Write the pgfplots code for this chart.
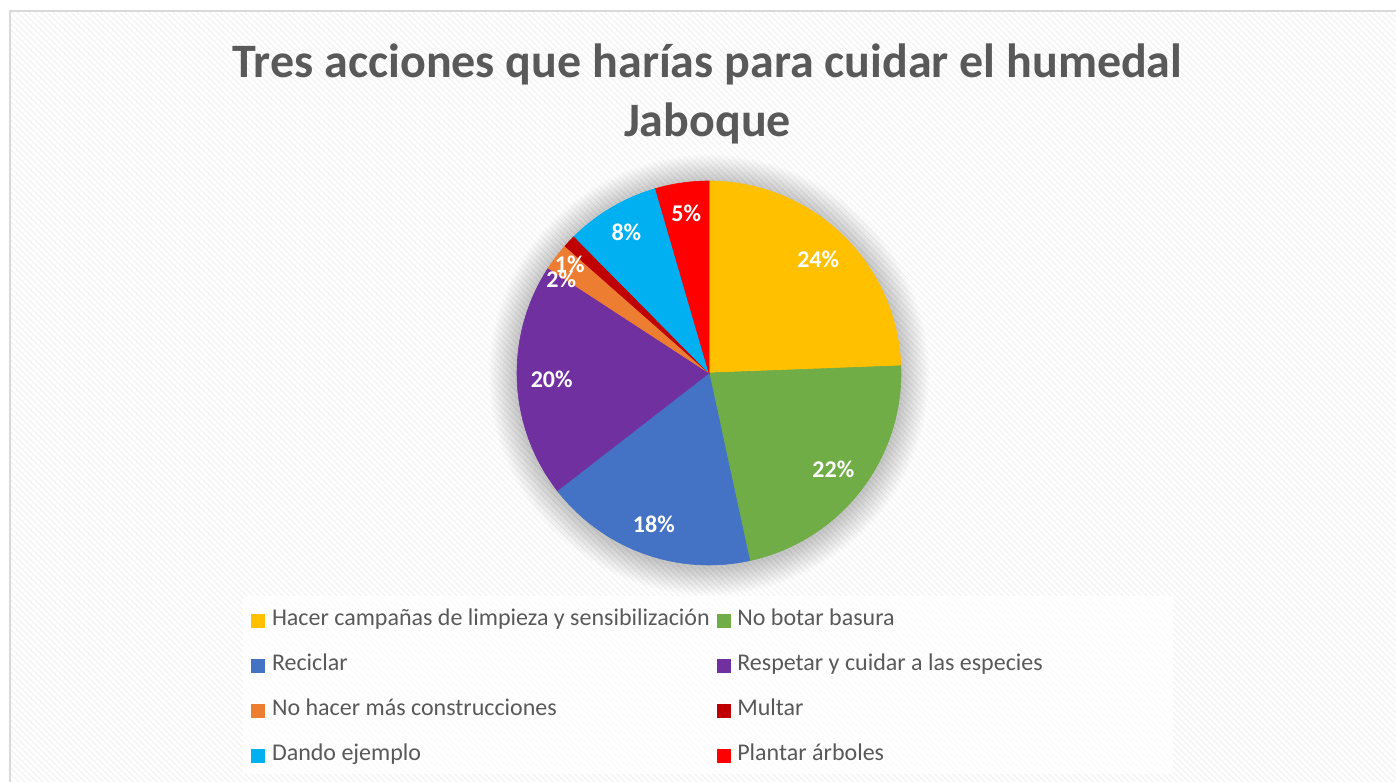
\documentclass[border=0pt]{standalone}
\usepackage{pgfplots}
\pgfplotsset{compat=1.18}
\usepackage{pgfplotstable}
\usetikzlibrary{patterns}
\usepackage{fontspec}
\setmainfont{Carlito}
\definecolor{txt}{HTML}{595959}
\definecolor{c0}{HTML}{FFC000}
\definecolor{c1}{HTML}{70AD47}
\definecolor{c2}{HTML}{4472C4}
\definecolor{c3}{HTML}{7030A0}
\definecolor{c4}{HTML}{ED7D31}
\definecolor{c5}{HTML}{C00000}
\definecolor{c6}{HTML}{00B0F0}
\definecolor{c7}{HTML}{FF0000}

\pgfplotstableread[col sep=comma]{
value,label,lr,da,name
24.4,24,0.82,0,Hacer campañas de limpieza y sensibilización
22.2,22,0.82,0,No botar basura
17.9,18,0.84,0,Reciclar
19.7,20,0.82,0,Respetar y cuidar a las especies
2.3,2,0.91,5,No hacer más construcciones
1.1,1,0.92,5.4,Multar
7.9,8,0.85,0,Dando ejemplo
4.5,5,0.84,0,Plantar árboles
}\piedata

\begin{document}
\begin{tikzpicture}[x=0.5pt,y=0.5pt]
\useasboundingbox (0,0) rectangle (1396,781);
\clip (0,0) rectangle (1396,781);
\fill[white] (0,0) rectangle (1396,781);
\fill[white] (10,770) rectangle (1420,-20);
\fill[pattern=north west lines, pattern color=black!6] (10,770) rectangle (1420,-20);
\draw[black!15, line width=1pt] (10,770) rectangle (1420,-20);
% title
\node[anchor=base, font=\fontsize{24}{30}\selectfont\bfseries, text=txt, inner sep=0pt] at (707.5,703) {Tres acciones que harías para cuidar el humedal};
\node[anchor=base, font=\fontsize{24}{30}\selectfont\bfseries, text=txt, inner sep=0pt] at (707.5,644) {Jaboque};
% soft shadow around pie
\foreach \k in {1,...,14} {\fill[black, opacity=0.014] (709,406) circle ({192+2*\k});}
% legend background
\fill[white, opacity=0.75] (243,185) rectangle (1173,7);
\begin{axis}[
  at={(354.5pt,204pt)}, anchor=center,
  width=192pt, height=192pt, scale only axis,
  xmin=-1, xmax=1, ymin=-1, ymax=1,
  hide axis, clip=false,
  legend columns=2,
  legend cell align=left,
  legend image code/.code={\fill[#1] (0pt,-3.25pt) rectangle (6.5pt,3.25pt);},
  legend style={
    at={(-0.6927,-0.1133)}, anchor=north west,
    draw=none, fill=none, inner sep=0pt,
    font=\fontsize{12}{14}\selectfont, text=txt,
    row sep=11pt,
    nodes={inner sep=0pt, text height=8.5pt, text depth=3pt},
    /tikz/every odd column/.append style={column sep=3.5pt},
    /tikz/every even column/.append style={column sep=3.5pt},
  },
]
\pgfplotstablegetrowsof{\piedata}
\pgfmathtruncatemacro\nrows{\pgfplotsretval-1}
\gdef\startang{90}
\pgfplotsforeachungrouped \i in {0,...,\nrows}{%
  \pgfplotstablegetelem{\i}{value}\of\piedata
  \let\val\pgfplotsretval
  \pgfmathsetmacro\endang{\startang-3.6*\val}
  \gdef\coords{(0,0)}
  \foreach \k in {0,...,48}{%
    \pgfmathsetmacro\a{\startang+(\endang-\startang)*\k/48}%
    \pgfmathsetmacro\cx{cos(\a)}%
    \pgfmathsetmacro\cy{sin(\a)}%
    \xdef\coords{\coords (\cx,\cy)}%
  }%
  \pgfplotstablegetelem{\i}{name}\of\piedata
  \let\nm\pgfplotsretval
  \edef\cmd{\noexpand\addplot[fill=c\i, draw=c\i, line width=0.3pt] coordinates {\coords} -- cycle;
    \noexpand\addlegendentry{\nm}}%
  \cmd
  \xdef\startang{\endang}%
}
% data labels
\gdef\startang{90}
\pgfplotsforeachungrouped \i in {0,...,\nrows}{%
  \pgfplotstablegetelem{\i}{value}\of\piedata
  \let\val\pgfplotsretval
  \pgfplotstablegetelem{\i}{lr}\of\piedata
  \let\lr\pgfplotsretval
  \pgfplotstablegetelem{\i}{da}\of\piedata
  \let\da\pgfplotsretval
  \pgfplotstablegetelem{\i}{label}\of\piedata
  \let\lab\pgfplotsretval
  \pgfmathsetmacro\endang{\startang-3.6*\val}
  \pgfmathsetmacro\mid{(\startang+\endang)/2+\da}
  \pgfmathsetmacro\lx{\lr*cos(\mid)}
  \pgfmathsetmacro\ly{\lr*sin(\mid)}
  \edef\cmd{\noexpand\node[text=white, font=\noexpand\fontsize{12}{14}\noexpand\selectfont\noexpand\bfseries] at (axis cs:\lx,\ly) {\lab\noexpand\%};}%
  \cmd
  \xdef\startang{\endang}%
}
\end{axis}
\end{tikzpicture}
\end{document}
